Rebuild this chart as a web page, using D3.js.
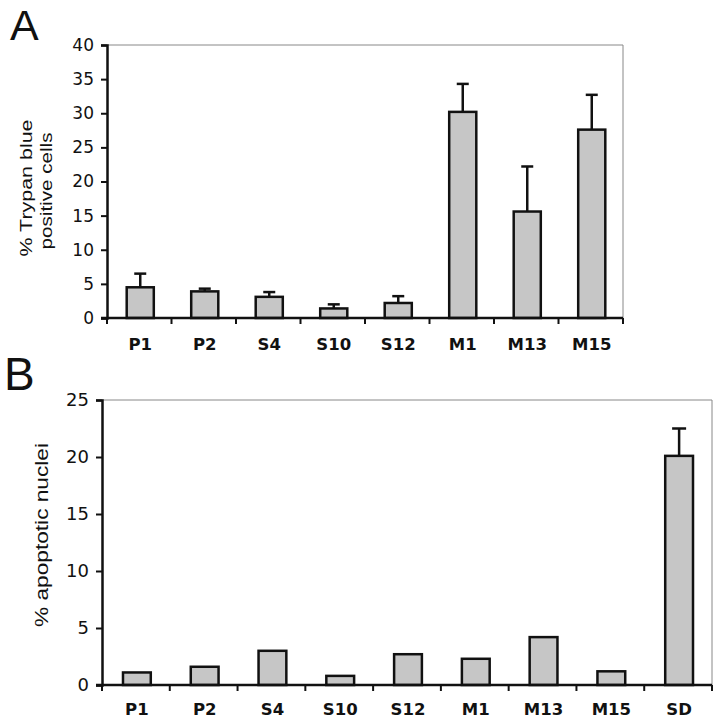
<!DOCTYPE html>
<html>
<head>
<meta charset="utf-8">
<script src="https://cdn.jsdelivr.net/npm/d3@7"></script>
<style>
  html, body { margin: 0; padding: 0; background: #fff; }
  svg { display: block; }
</style>
</head>
<body>
<svg id="chart" width="718" height="719"></svg>
<script>
// ---- Panel A data ----
const catsA = ["P1", "P2", "S4", "S10", "S12", "M1", "M13", "M15"];
const valsA = [4.5, 3.9, 3.1, 1.4, 2.2, 30.2, 15.6, 27.6];
const errA  = [6.5, 4.3, 3.8, 2.0, 3.2, 34.3, 22.2, 32.7];
const ticksA = [0, 5, 10, 15, 20, 25, 30, 35, 40];

// ---- Panel B data ----
const catsB = ["P1", "P2", "S4", "S10", "S12", "M1", "M13", "M15", "SD"];
const valsB = [1.1, 1.6, 3.0, 0.8, 2.7, 2.3, 4.2, 1.2, 20.1];
const errB  = [null, null, null, null, null, null, null, null, 22.5];
const ticksB = [0, 5, 10, 15, 20, 25];

const svg = d3.select("#chart");
const barFill = "#c6c6c6";

function panel(cfg) {
  const g = svg.append("g");
  const x = d3.scaleBand().domain(cfg.cats).range([cfg.x0, cfg.x1]).paddingInner(0).paddingOuter(0);
  const y = d3.scaleLinear().domain([0, cfg.ymax]).range([cfg.y0, cfg.y1]);

  // frame top and right
  g.append("path")
    .attr("d", `M${cfg.x0},${y(cfg.ymax)}H${cfg.x1}V${cfg.y0}`)
    .attr("fill", "none").attr("stroke", "#888").attr("stroke-width", 1);

  // bars
  const bw = x.bandwidth() * cfg.barFrac;
  g.selectAll("rect.bar").data(cfg.vals).join("rect")
    .attr("x", (d, i) => x(cfg.cats[i]) + x.bandwidth() / 2 - bw / 2 + 1)
    .attr("y", d => y(d))
    .attr("width", bw)
    .attr("height", d => y(0) - y(d))
    .attr("fill", barFill).attr("stroke", "#111").attr("stroke-width", 2.5);

  // error bars
  const capW = cfg.capW;
  cfg.errs.forEach((e, i) => {
    if (e == null) return;
    const cx = x(cfg.cats[i]) + x.bandwidth() / 2 + 1;
    g.append("line").attr("x1", cx).attr("x2", cx).attr("y1", y(cfg.vals[i])).attr("y2", y(e))
      .attr("stroke", "#111").attr("stroke-width", 2.5);
    g.append("line").attr("x1", cx - capW / 2).attr("x2", cx + capW / 2).attr("y1", y(e)).attr("y2", y(e))
      .attr("stroke", "#111").attr("stroke-width", 2.5);
  });

  // y axis
  const ya = g.append("g").attr("transform", `translate(${cfg.x0},0)`)
    .call(d3.axisLeft(y).tickValues(cfg.ticks).tickSize(6).tickPadding(7).tickFormat(d3.format("d")));
  ya.select(".domain").attr("stroke", "#111").attr("stroke-width", 2.5);
  ya.selectAll(".tick line").attr("stroke", "#111").attr("stroke-width", 2);
  ya.selectAll(".tick text").attr("font-family", "DejaVu Sans, sans-serif")
    .attr("font-size", cfg.tickFont).attr("fill", "#111");

  // x axis: baseline with ticks at category boundaries
  g.append("line").attr("x1", cfg.x0 - 6).attr("x2", cfg.x1).attr("y1", y(0)).attr("y2", y(0))
    .attr("stroke", "#111").attr("stroke-width", 2.5);
  const bounds = cfg.cats.map(c => x(c)).concat([cfg.x1]);
  g.selectAll("line.xt").data(bounds).join("line")
    .attr("x1", d => d).attr("x2", d => d).attr("y1", y(0)).attr("y2", y(0) + 6)
    .attr("stroke", "#111").attr("stroke-width", 2);
  g.selectAll("text.xl").data(cfg.cats).join("text")
    .attr("x", d => x(d) + x.bandwidth() / 2 + 1)
    .attr("y", cfg.xLabelY)
    .attr("text-anchor", "middle")
    .attr("font-family", "DejaVu Sans, sans-serif").attr("font-weight", "bold")
    .attr("font-size", 16.5).attr("fill", "#111")
    .text(d => d);

  // y title lines
  cfg.titles.forEach(t => {
    g.append("text")
      .attr("transform", `translate(${t.x},${t.cy}) rotate(-90)`)
      .attr("text-anchor", "middle")
      .attr("font-family", "Liberation Sans, Arial, sans-serif")
      .attr("font-size", t.size).attr("fill", "#111")
      .attr("textLength", t.len).attr("lengthAdjust", "spacingAndGlyphs")
      .text(t.text);
  });

  // panel letter
  g.append("text").attr("x", cfg.letterX).attr("y", cfg.letterY)
    .attr("font-family", "Liberation Sans, Arial, sans-serif")
    .attr("font-size", cfg.letterSize).attr("fill", "#111")
    .text(cfg.letter);
}

panel({
  cats: catsA, vals: valsA, errs: errA, ticks: ticksA, ymax: 40,
  x0: 107, x1: 623, y0: 318, y1: 45, barFrac: 0.42, capW: 12,
  tickFont: 17, xLabelY: 350,
  titles: [
    { text: "% Trypan blue", x: 32, cy: 188, size: 17, len: 137 },
    { text: "positive cells", x: 52, cy: 191, size: 17, len: 117 }
  ],
  letter: "A", letterX: 10, letterY: 40, letterSize: 43
});

panel({
  cats: catsB, vals: valsB, errs: errB, ticks: ticksB, ymax: 25,
  x0: 102, x1: 712, y0: 685, y1: 400, barFrac: 0.41, capW: 14,
  tickFont: 18, xLabelY: 715,
  titles: [
    { text: "% apoptotic nuclei", x: 48, cy: 535, size: 18, len: 184 }
  ],
  letter: "B", letterX: 4, letterY: 390, letterSize: 46
});
</script>
</body>
</html>
